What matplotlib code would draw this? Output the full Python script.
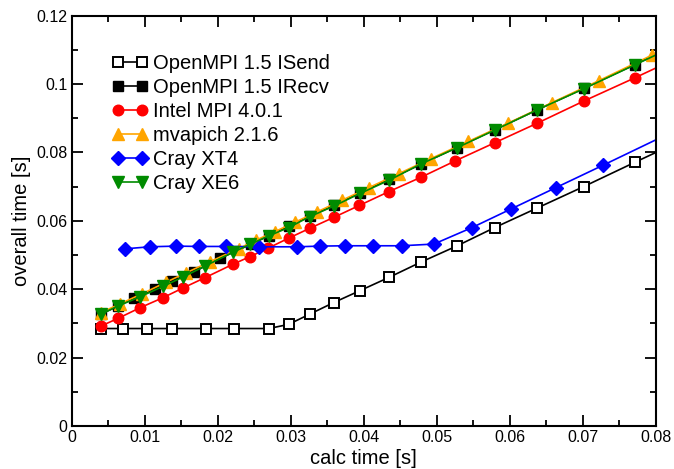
import numpy as np
import matplotlib
matplotlib.use("Agg")
import matplotlib.pyplot as plt
from matplotlib.ticker import MultipleLocator, FuncFormatter

plt.rcParams['font.family'] = ['Liberation Sans', 'DejaVu Sans']

# calc time [s] / overall time [s] per implementation
# (last point of each series lies just past the axis end, as in the measurement)
isend_x = [0.0040, 0.0071, 0.0104, 0.0138, 0.0184, 0.0223, 0.0270, 0.0297, 0.0326, 0.0359,
           0.0395, 0.0435, 0.0478, 0.0527, 0.0579, 0.0637, 0.0701, 0.0771, 0.0848]
isend_y = [0.0285, 0.0285, 0.0285, 0.0285, 0.0285, 0.0285, 0.0285, 0.0297, 0.0327, 0.0361,
           0.0396, 0.0435, 0.0479, 0.0526, 0.0580, 0.0637, 0.0700, 0.0771, 0.0848]

irecv_x = [0.0040, 0.0064, 0.0086, 0.0114, 0.0138, 0.0168, 0.0203, 0.0245, 0.0270, 0.0297,
           0.0326, 0.0359, 0.0395, 0.0435, 0.0478, 0.0527, 0.0579, 0.0637, 0.0701, 0.0771, 0.0848]
irecv_y = [0.0327, 0.0351, 0.0375, 0.0401, 0.0424, 0.0451, 0.0490, 0.0531, 0.0556, 0.0584,
           0.0613, 0.0645, 0.0682, 0.0722, 0.0765, 0.0814, 0.0866, 0.0924, 0.0987, 0.1057, 0.1135]

intel_x = [0.0040, 0.0064, 0.0094, 0.0125, 0.0152, 0.0183, 0.0221, 0.0244, 0.0269, 0.0297,
           0.0326, 0.0359, 0.0394, 0.0434, 0.0478, 0.0525, 0.0579, 0.0637, 0.0701, 0.0771, 0.0848]
intel_y = [0.0292, 0.0315, 0.0346, 0.0375, 0.0403, 0.0434, 0.0473, 0.0495, 0.0520, 0.0549,
           0.0578, 0.0610, 0.0645, 0.0685, 0.0727, 0.0775, 0.0828, 0.0885, 0.0950, 0.1018, 0.1095]

mvapich_x = [0.0040, 0.0066, 0.0097, 0.0129, 0.0157, 0.0189, 0.0229, 0.0252, 0.0278, 0.0306,
             0.0336, 0.0370, 0.0407, 0.0448, 0.0492, 0.0543, 0.0597, 0.0657, 0.0722, 0.0794, 0.0873]
mvapich_y = [0.0331, 0.0357, 0.0387, 0.0420, 0.0448, 0.0480, 0.0519, 0.0543, 0.0568, 0.0596,
             0.0626, 0.0660, 0.0697, 0.0738, 0.0782, 0.0832, 0.0885, 0.0945, 0.1010, 0.1084, 0.1163]

xt4_x = [0.0073, 0.0107, 0.0143, 0.0175, 0.0211, 0.0257, 0.0309, 0.0340, 0.0374, 0.0412,
         0.0452, 0.0496, 0.0548, 0.0602, 0.0663, 0.0728, 0.0801]
xt4_y = [0.0518, 0.0524, 0.0526, 0.0525, 0.0525, 0.0524, 0.0524, 0.0526, 0.0527, 0.0527,
         0.0527, 0.0532, 0.0580, 0.0635, 0.0697, 0.0763, 0.0838]

xe6_x = [0.0040, 0.0064, 0.0094, 0.0125, 0.0152, 0.0183, 0.0221, 0.0244, 0.0270, 0.0297,
         0.0326, 0.0359, 0.0395, 0.0435, 0.0478, 0.0527, 0.0579, 0.0637, 0.0701, 0.0771, 0.0848]
xe6_y = [0.0327, 0.0351, 0.0378, 0.0408, 0.0435, 0.0468, 0.0508, 0.0531, 0.0556, 0.0580,
         0.0612, 0.0643, 0.0680, 0.0719, 0.0766, 0.0813, 0.0865, 0.0924, 0.0986, 0.1056, 0.1133]

fig = plt.figure(figsize=(6.74, 4.69), dpi=100)
ax = fig.add_axes([0.1061, 0.0917, 0.8672, 0.875])

lw = 1.2
ax.plot(isend_x, isend_y, color='black', lw=lw, marker='s', ms=6.5, mfc='white',
        mec='black', mew=1.4, label='OpenMPI 1.5 ISend')
ax.plot(irecv_x, irecv_y, color='black', lw=lw, marker='s', ms=7.0, mfc='black',
        mec='black', label='OpenMPI 1.5 IRecv')
ax.plot(intel_x, intel_y, color='#ff0000', lw=lw, marker='o', ms=7.6, mfc='#ff0000',
        mec='#ff0000', label='Intel MPI 4.0.1')
ax.plot(mvapich_x, mvapich_y, color='#ffa500', lw=lw, marker='^', ms=8.5, mfc='#ffa500',
        mec='#ffa500', label='mvapich 2.1.6')
ax.plot(xt4_x, xt4_y, color='#0000ff', lw=lw, marker='D', ms=6.8, mfc='#0000ff',
        mec='#0000ff', markevery=slice(0, len(xt4_x) - 1), label='Cray XT4')
ax.plot(xe6_x, xe6_y, color='#008b00', lw=lw, marker='v', ms=8.5, mfc='#008b00',
        mec='#008b00', label='Cray XE6')

ax.set_xlim(0, 0.08)
ax.set_ylim(0, 0.12)
ax.xaxis.set_major_locator(MultipleLocator(0.01))
ax.xaxis.set_minor_locator(MultipleLocator(0.005))
ax.yaxis.set_major_locator(MultipleLocator(0.02))
ax.yaxis.set_minor_locator(MultipleLocator(0.01))
fmt = FuncFormatter(lambda v, p: '0' if abs(v) < 1e-12 else '%g' % round(v, 4))
ax.xaxis.set_major_formatter(fmt)
ax.yaxis.set_major_formatter(fmt)

for s in ax.spines.values():
    s.set_linewidth(1.5)
ax.tick_params(which='both', direction='in', top=True, right=True, width=1.3)
ax.tick_params(which='major', length=8, pad=3, labelsize=11.5)
ax.tick_params(which='minor', length=4.3)

ax.set_xlabel('calc time [s]', fontsize=14.5, labelpad=3)
ax.set_ylabel('overall time [s]', fontsize=14.5, labelpad=4)

ax.legend(loc='upper left', bbox_to_anchor=(0.0698, 0.9055), frameon=False,
          fontsize=14.5, numpoints=2, handlelength=1.77, handletextpad=0.26,
          borderpad=0, borderaxespad=0, labelspacing=0.24)

fig.savefig('out.png', dpi=100)
